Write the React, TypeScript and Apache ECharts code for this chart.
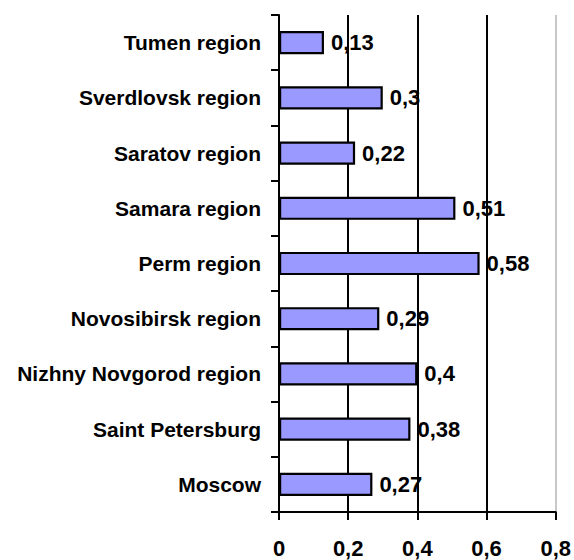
import React, { useEffect, useRef } from "react";
import * as echarts from "echarts";

const categories = [
  "Moscow",
  "Saint Petersburg",
  "Nizhny Novgorod region",
  "Novosibirsk region",
  "Perm region",
  "Samara region",
  "Saratov region",
  "Sverdlovsk region",
  "Tumen region",
];
const values = [0.27, 0.38, 0.4, 0.29, 0.58, 0.51, 0.22, 0.3, 0.13];
const xTicks = [0, 0.2, 0.4, 0.6, 0.8];

const fmt = (v: number) => String(v).replace(".", ",");
const FONT = "'Liberation Sans', Arial, sans-serif";

export default function App() {
  const ref = useRef<HTMLDivElement>(null);
  useEffect(() => {
    if (!ref.current) return;
    const chart = echarts.init(ref.current, null, { renderer: "svg" });
    chart.setOption({
      animation: false,
      backgroundColor: "#ffffff",
      grid: { left: 279, top: 15, right: 17, bottom: 48, containLabel: false },
      xAxis: {
        type: "value",
        min: xTicks[0],
        max: xTicks[xTicks.length - 1],
        interval: 0.2,
        axisLine: { show: true, lineStyle: { color: "#000", width: 2 } },
        axisTick: { show: true, length: 8, lineStyle: { color: "#000", width: 2 } },
        axisLabel: {
          margin: 25,
          color: "#000",
          fontWeight: "bold",
          fontSize: 22,
          fontFamily: FONT,
          formatter: (v: number) => fmt(Math.round(v * 10) / 10),
        },
        splitLine: {
          show: true,
          lineStyle: { color: ["#000", "#000", "#000", "#000", "#c8c8c8"], width: 2 },
        },
      },
      yAxis: {
        type: "category",
        data: categories,
        axisLine: { show: true, lineStyle: { color: "#000", width: 2 } },
        axisTick: { show: true, length: 8, lineStyle: { color: "#000", width: 2 } },
        axisLabel: {
          margin: 18,
          color: "#000",
          fontWeight: "bold",
          fontSize: 21,
          fontFamily: FONT,
        },
        splitLine: { show: false },
      },
      series: [
        {
          type: "bar",
          data: values,
          barWidth: "42%",
          itemStyle: { color: "#9999ff", borderColor: "#000", borderWidth: 2.2 },
          label: {
            show: true,
            position: "right",
            distance: 7,
            color: "#000",
            fontWeight: "bold",
            fontSize: 22,
            fontFamily: FONT,
            formatter: (p: any) => fmt(p.value),
          },
        },
      ],
    });
    return () => chart.dispose();
  }, []);
  return (
    <div
      ref={ref}
      style={{ position: "fixed", left: 0, top: 0, width: 574, height: 560 }}
    />
  );
}
